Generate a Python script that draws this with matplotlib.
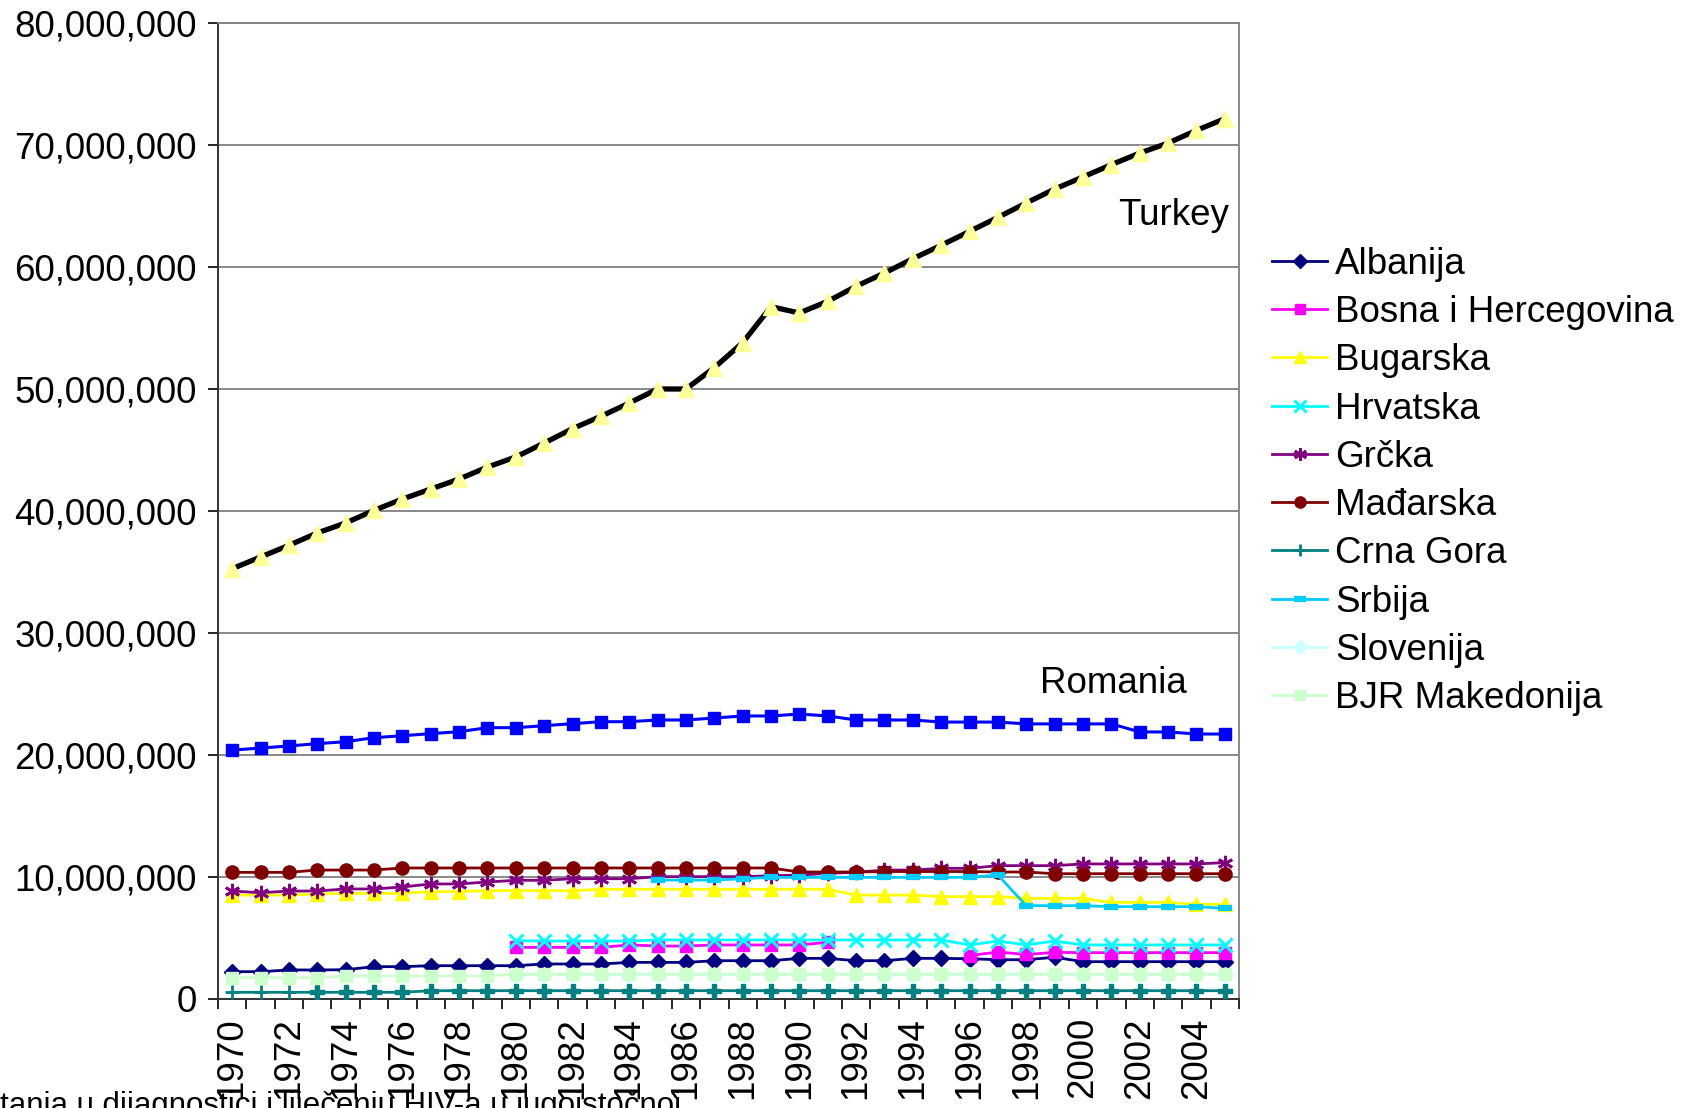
import numpy as np
import matplotlib
matplotlib.use("Agg")
import matplotlib.pyplot as plt
from matplotlib.ticker import FuncFormatter

plt.rcParams["font.family"] = ["Liberation Sans", "DejaVu Sans"]

nan = np.nan
years = list(range(1970, 2006))

# population, millions
turkey = [35.27, 36.23, 37.19, 38.2, 39.02, 40.05, 40.98, 41.8, 42.62, 43.6,
          44.43, 45.57, 46.75, 47.76, 48.85, 50.0, 50.0, 51.75, 53.8, 56.75,
          56.23, 57.19, 58.42, 59.51, 60.68, 61.78, 62.92, 64.07, 65.25, 66.39,
          67.38, 68.39, 69.34, 70.16, 71.2, 72.16]
romania = [20.4, 20.57, 20.74, 20.93, 21.09, 21.42, 21.58, 21.75, 21.91, 22.24,
           22.24, 22.4, 22.57, 22.73, 22.73, 22.87, 22.87, 23.03, 23.2, 23.2,
           23.36, 23.2, 22.87, 22.87, 22.87, 22.7, 22.7, 22.7, 22.55, 22.55,
           22.55, 22.55, 21.89, 21.89, 21.72, 21.72]
albanija = [2.24, 2.24, 2.38, 2.38, 2.4, 2.65, 2.65, 2.73, 2.73, 2.73,
            2.73, 2.87, 2.87, 2.87, 3.0, 3.0, 3.0, 3.14, 3.14, 3.14,
            3.33, 3.33, 3.14, 3.14, 3.33, 3.33, 3.3, 3.22, 3.22, 3.42,
            3.06, 3.06, 3.06, 3.06, 3.06, 3.06]
bosna = [nan, nan, nan, nan, nan, nan, nan, nan, nan, nan,
         4.23, 4.23, 4.23, 4.23, 4.43, 4.34, 4.34, 4.43, 4.43, 4.43,
         4.43, 4.65, nan, nan, nan, nan, 3.56, 3.85, 3.65, 3.82,
         3.8, 3.8, 3.8, 3.8, 3.8, 3.8]
bugarska = [8.52, 8.52, 8.52, 8.6, 8.66, 8.66, 8.66, 8.8, 8.8, 8.88,
            8.88, 8.88, 8.88, 8.99, 8.99, 8.99, 8.99, 8.99, 8.99, 8.99,
            8.99, 8.99, 8.52, 8.52, 8.52, 8.39, 8.39, 8.39, 8.25, 8.25,
            8.25, 7.92, 7.92, 7.92, 7.76, 7.76]
hrvatska = [nan, nan, nan, nan, nan, nan, nan, nan, nan, nan,
            4.78, 4.75, 4.75, 4.75, 4.75, 4.84, 4.84, 4.84, 4.84, 4.84,
            4.84, 4.84, 4.84, 4.84, 4.84, 4.84, 4.43, 4.75, 4.43, 4.75,
            4.43, 4.43, 4.43, 4.43, 4.43, 4.43]
grcka = [8.85, 8.71, 8.85, 8.85, 9.02, 9.02, 9.18, 9.43, 9.43, 9.59,
         9.73, 9.73, 9.86, 9.86, 9.86, 10.03, 10.03, 10.03, 10.03, 10.1,
         10.16, 10.3, 10.38, 10.57, 10.57, 10.71, 10.71, 10.93, 10.93, 10.93,
         11.07, 11.07, 11.07, 11.07, 11.07, 11.18]
madjarska = [10.38, 10.38, 10.38, 10.57, 10.57, 10.57, 10.74, 10.74, 10.74, 10.74,
             10.74, 10.74, 10.74, 10.74, 10.74, 10.74, 10.74, 10.74, 10.74, 10.74,
             10.41, 10.41, 10.41, 10.45, 10.45, 10.45, 10.45, 10.41, 10.41, 10.27,
             10.27, 10.27, 10.27, 10.27, 10.27, 10.27]
crna_gora = [0.55, 0.55, 0.55, 0.55, 0.55, 0.55, 0.55, 0.68, 0.68, 0.68,
             0.68, 0.68, 0.68, 0.68, 0.68, 0.68, 0.68, 0.68, 0.68, 0.68,
             0.68, 0.68, 0.68, 0.68, 0.68, 0.68, 0.68, 0.68, 0.68, 0.68,
             0.68, 0.68, 0.68, 0.68, 0.68, 0.68]
srbija = [nan, nan, nan, nan, nan, nan, nan, nan, nan, nan,
          nan, nan, nan, nan, nan, 9.75, 9.75, 9.75, 9.86, 9.97,
          9.97, 9.97, 9.97, 9.97, 9.97, 9.97, 9.97, 10.16, 7.65, 7.65,
          7.65, 7.57, 7.57, 7.57, 7.57, 7.43]
slovenija = [nan, nan, nan, nan, nan, nan, nan, nan, nan, nan,
             1.98, 1.99, 2.0, 2.0, 2.0, 2.0, 2.0, 2.0, 2.0, 2.0,
             2.0, 2.0, 2.0, 2.0, 2.0, 2.0, 2.0, 2.0, 2.0, 2.0,
             2.0, 2.0, 2.0, 2.0, 2.0, 2.0]
makedonija = [1.75, 1.75, 1.75, 1.75, 1.89, 1.89, 1.89, 1.89, 1.89, 1.89,
              2.05, 2.05, 2.05, 2.05, 2.05, 2.05, 2.05, 2.05, 2.05, 2.05,
              2.05, 2.05, 2.05, 2.05, 2.05, 2.05, 2.05, 2.05, 2.05, 2.05,
              2.05, 2.05, 2.05, 2.05, 2.05, 2.05]

x = np.arange(len(years))
M = 1e6

fig = plt.figure(figsize=(16.84, 11.08), dpi=100)
ax = fig.add_axes([218 / 1684, 1 - 999 / 1108, 1021 / 1684, 976 / 1108])

# legend series, in legend order (later ones draw on top)
series = [
    ("Albanija", albanija, "#000080", "D", 8.0, 1.0),
    ("Bosna i Hercegovina", bosna, "#FF00FF", "s", 8.0, 1.0),
    ("Bugarska", bugarska, "#FFFF00", "^", 10.5, 1.0),
    ("Hrvatska", hrvatska, "#00FFFF", "x", 10.0, 2.2),
    ("Grčka", grcka, "#800080", (6, 2, 0), 11.0, 2.0),
    ("Mađarska", madjarska, "#800000", "o", 9.5, 1.0),
    ("Crna Gora", crna_gora, "#008080", "+", 10.0, 2.0),
    ("Srbija", srbija, "#00CCFF", "_", 10.0, 4.5),
    ("Slovenija", slovenija, "#CCFFFF", "D", 8.0, 1.0),
    ("BJR Makedonija", makedonija, "#CCFFCC", "s", 8.5, 1.0),
]
for name, vals, col, mk, ms, mew in series:
    ax.plot(x, np.array(vals) * M, color=col, lw=2.0, marker=mk, ms=ms,
            mfc=col, mec=col, mew=mew, label=name, zorder=3)
    if name == "Crna Gora":
        ax.plot(x[3:], np.array(vals[3:]) * M, ls="none", marker="P", ms=10,
                color=col, zorder=3)

ax.plot(x, np.array(turkey) * M, color="black", lw=3.8, marker="^", ms=11,
        mfc="#FFFF99", mec="#FFFF99", zorder=4)
ax.plot(x, np.array(romania) * M, color="#0000FF", lw=2.2, marker="s", ms=8.5,
        mfc="#0000FF", mec="#0000FF", zorder=4)

ax.text(0.990, 0.793, "Turkey", transform=ax.transAxes, ha="right",
        va="baseline", fontsize=26.5)
ax.text(0.805, 0.3135, "Romania", transform=ax.transAxes, ha="left",
        va="baseline", fontsize=26.5)

ax.set_xlim(-0.5, len(years) - 0.5)
ax.set_ylim(0, 80 * M)
ax.set_yticks(np.arange(0, 81, 10) * M)
ax.yaxis.set_major_formatter(FuncFormatter(lambda v, p: f"{v:,.0f}"))
ax.tick_params(axis="y", labelsize=26.5, length=7.2, width=1.2, pad=8,
               direction="out")
ax.grid(axis="y", color="#808080", lw=1.3)
ax.set_axisbelow(True)

ax.set_xticks(x[::2])
ax.set_xticklabels([str(y) for y in years[::2]], rotation=90, fontsize=26.5)
ax.set_xticks(np.arange(-0.5, len(years), 1.0), minor=True)
ax.tick_params(axis="x", which="major", length=0, pad=13)
ax.tick_params(axis="x", which="minor", length=7.2, width=1.2, direction="out")

for side in ["left", "bottom"]:
    ax.spines[side].set_color("#333333")
    ax.spines[side].set_linewidth(1.4)
for side in ["right", "top"]:
    ax.spines[side].set_color("#808080")
    ax.spines[side].set_linewidth(1.3)

fig.legend(loc="center left", bbox_to_anchor=(1272 / 1684, 1 - 481.5 / 1108),
           frameon=False, fontsize=26.5, borderpad=0, borderaxespad=0,
           handlelength=1.5, handletextpad=0.22, labelspacing=0.36, numpoints=1,
           markerscale=0.85)

fig.text(0.0, 1 - 1091 / 1108, "tanja u dijagnostici i liječenju HIV-a u jugoistočnoj",
         fontsize=22.5, ha="left", va="top")

fig.savefig("out.png", dpi=100)
